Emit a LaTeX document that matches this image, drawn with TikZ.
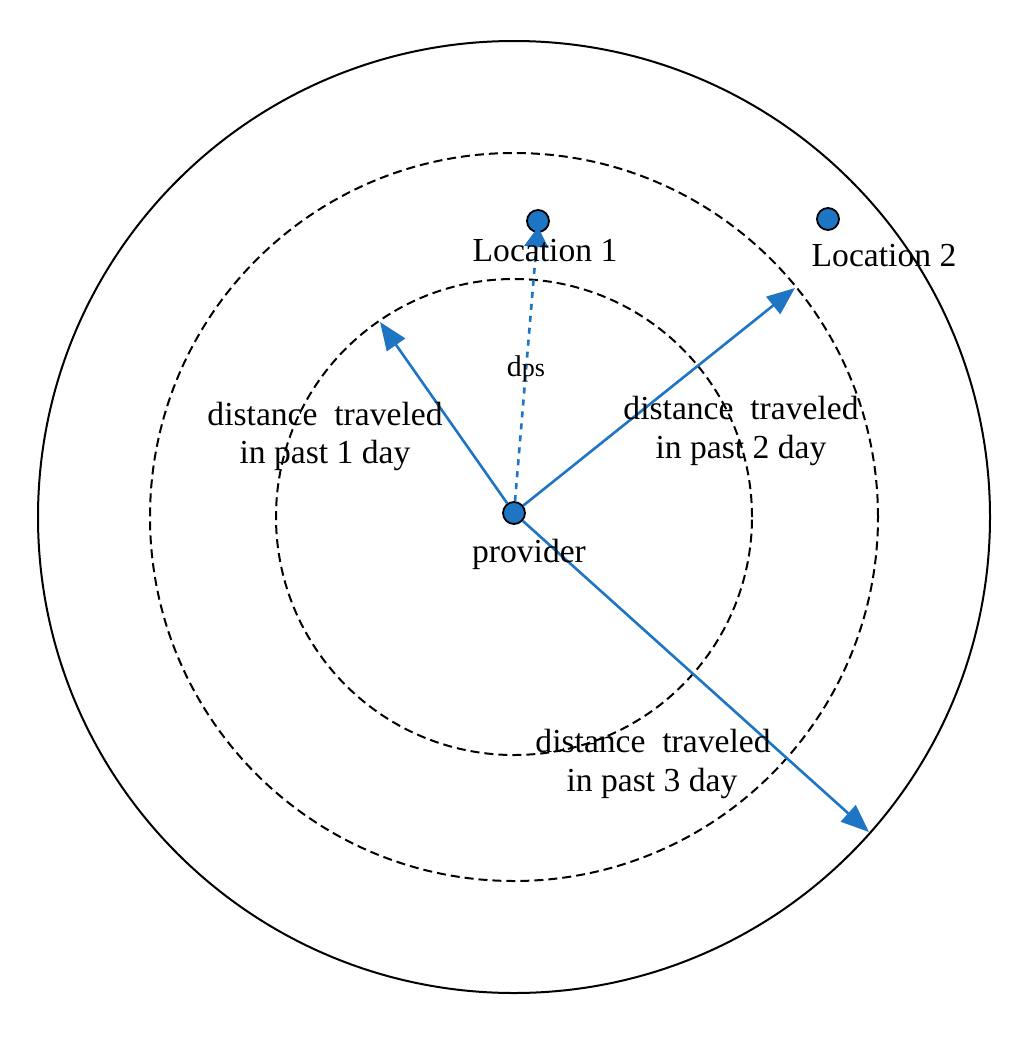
\documentclass[tikz,border=0pt]{standalone}
\usepackage{fontspec}
\setmainfont{Liberation Serif}
\usetikzlibrary{arrows.meta}
\definecolor{myblue}{RGB}{30,117,195}
\begin{document}
\begin{tikzpicture}[x=0.5pt,y=-0.5pt,
  ring/.style={draw=black, line width=1pt},
  dring/.style={ring, dash pattern=on 4.5pt off 2.5pt},
  dot/.style={circle, draw=black, line width=0.9pt, fill=myblue, minimum size=11pt, inner sep=0pt},
  lbl/.style={font=\fontsize{16.8}{19}\selectfont, anchor=base, inner sep=0pt},
  arr/.style={draw=myblue, line width=1.3pt, -{Triangle[length=14pt,width=11pt]}},
  darr/.style={arr, dash pattern=on 3pt off 3pt, -{Triangle[length=10pt,width=12pt]}}]
\fill[white] (0,0) rectangle (1024,1039);
\useasboundingbox (0,0) rectangle (1024,1039);
\coordinate (c) at (514,517);
\draw[ring] (c) circle[radius=238pt];
\draw[dring] (c) circle[radius=182pt];
\draw[dring] (c) circle[radius=119pt];
% points
\node[dot] (prov) at (514,513) {};
\node[dot] (loc1) at (538,221) {};
\node[dot] (loc2) at (828,219) {};
% arrow ends
\coordinate (t1) at (380,322);
\coordinate (t2) at (795,288);
\coordinate (t3) at (869,832);
\coordinate (t0) at (538,227);
\draw[arr] (prov) -- (t1);
\draw[arr] (prov) -- (t2);
\draw[arr] (prov) -- (t3);
\draw[darr] (prov) -- (t0);
% labels
\node[lbl] (l1) at (545,261) {Location 1};
\node[lbl] (l2) at (884,266) {Location 2};
\node[lbl] (pv) at (529,562) {provider};
\node[anchor=base, inner sep=0pt] (dps) at (526,376) {\fontsize{15}{15}\selectfont d{\fontsize{13}{13}\selectfont ps}};
\node[lbl] (a1) at (325,425) {distance\ \ traveled};
\node[lbl] (b1) at (325,463) {in past 1 day};
\node[lbl] (a2) at (741,419) {distance\ \ traveled};
\node[lbl] (b2) at (741,458) {in past 2 day};
\node[lbl] (a3) at (653,752) {distance\ \ traveled};
\node[lbl] (b3) at (652,791) {in past 3 day};
\end{tikzpicture}
\end{document}
